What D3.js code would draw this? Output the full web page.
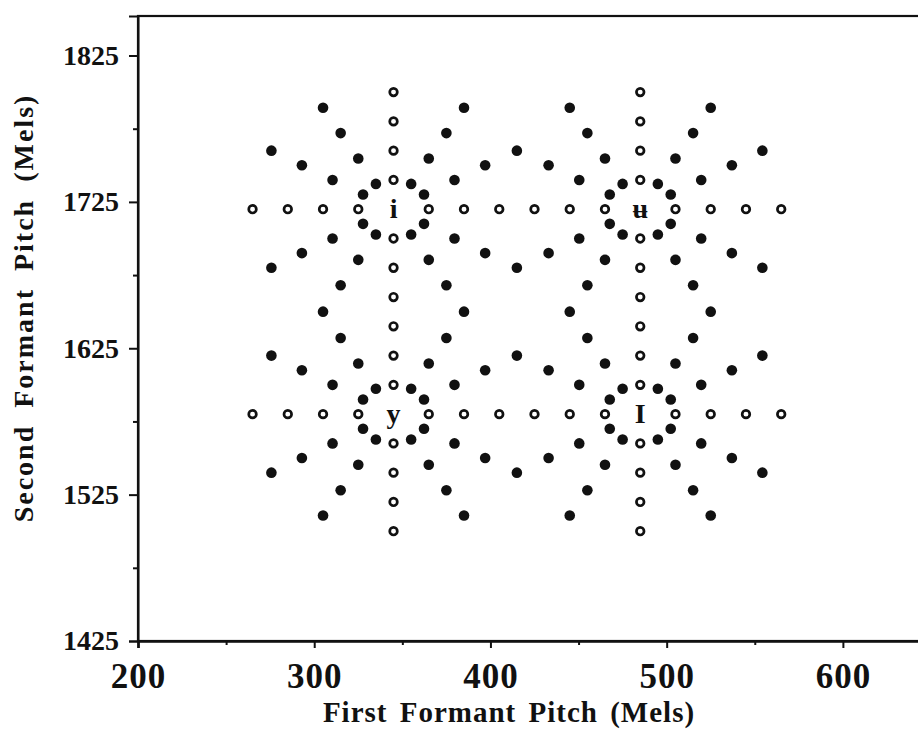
<!DOCTYPE html>
<meta charset="utf-8">
<style>
body { margin: 0; background: #fff; }
svg { display: block; background: #fff; }
text { font-family: "Liberation Serif", "Times New Roman", serif; font-weight: bold; fill: #111; }
.axis path, .axis line { stroke: #111; stroke-width: 2px; }
.axis.bottom path { stroke-width: 2.6px; }
.frame { fill: none; stroke: #111; stroke-width: 2.2px; }
.dot-filled { fill: #111; }
.dot-open { fill: #fff; stroke: #111; stroke-width: 2.7px; }
</style>
<script src="https://d3js.org/d3.v7.min.js"></script>
<body>
<svg id="chart"></svg>
<script>

// axis ticks
var xMajor = [200, 300, 400, 500, 600];
var xMinor = [250, 350, 450, 550, 650];
var yMajor = [1425, 1525, 1625, 1725, 1825];
var yMinor = [1475, 1575, 1675, 1775];

// prototype vowels (F1, F2 in mels)
var protoLabels = ["i", "\u0289", "y", "I"];
var protoF1 = [345, 485, 345, 485];
var protoF2 = [1720, 1720, 1580, 1580];

// open circles: stimuli on the horizontal / vertical lines through the prototypes
var openPoints = [
  [265,1720],[285,1720],[305,1720],[325,1720],[365,1720],[385,1720],[405,1720],
  [425,1720],[445,1720],[465,1720],[505,1720],[525,1720],[545,1720],[565,1720],
  [265,1580],[285,1580],[305,1580],[325,1580],[365,1580],[385,1580],[405,1580],
  [425,1580],[445,1580],[465,1580],[505,1580],[525,1580],[545,1580],[565,1580],
  [345,1800],[345,1780],[345,1760],[345,1740],[345,1700],[345,1680],[345,1660],
  [345,1640],[345,1620],[345,1600],[345,1560],[345,1540],[345,1520],[345,1500],
  [485,1800],[485,1780],[485,1760],[485,1740],[485,1700],[485,1680],[485,1660],
  [485,1640],[485,1620],[485,1600],[485,1560],[485,1540],[485,1520],[485,1500]
];

// filled circles: stimuli on the oblique rays round each prototype
var filledAroundI = [
  [362.3,1730],[379.6,1740],[397,1750],
  [355,1737.3],[365,1754.6],[375,1772],[385,1789.3],
  [335,1737.3],[325,1754.6],[315,1772],[305,1789.3],
  [327.7,1730],[310.4,1740],[293,1750],[275.7,1760],
  [327.7,1710],[310.4,1700],[293,1690],[275.7,1680],
  [335,1702.7],[325,1685.4],[315,1668],
  [355,1702.7],[365,1685.4],[375,1668],
  [362.3,1710],[379.6,1700],[397,1690]
];
var filledAroundU = [
  [502.3,1730],[519.6,1740],[537,1750],[554.3,1760],
  [495,1737.3],[505,1754.6],[515,1772],[525,1789.3],
  [475,1737.3],[465,1754.6],[455,1772],[445,1789.3],
  [467.7,1730],[450.4,1740],[433,1750],
  [467.7,1710],[450.4,1700],[433,1690],
  [475,1702.7],[465,1685.4],[455,1668],
  [495,1702.7],[505,1685.4],[515,1668],
  [502.3,1710],[519.6,1700],[537,1690],[554.3,1680]
];
var filledAroundY = [
  [362.3,1590],[379.6,1600],[397,1610],
  [355,1597.3],[365,1614.6],[375,1632],
  [335,1597.3],[325,1614.6],[315,1632],
  [327.7,1590],[310.4,1600],[293,1610],[275.7,1620],
  [327.7,1570],[310.4,1560],[293,1550],[275.7,1540],
  [335,1562.7],[325,1545.4],[315,1528],[305,1510.7],
  [355,1562.7],[365,1545.4],[375,1528],[385,1510.7],
  [362.3,1570],[379.6,1560],[397,1550]
];
var filledAroundCapI = [
  [502.3,1590],[519.6,1600],[537,1610],[554.3,1620],
  [495,1597.3],[505,1614.6],[515,1632],
  [475,1597.3],[465,1614.6],[455,1632],
  [467.7,1590],[450.4,1600],[433,1610],
  [467.7,1570],[450.4,1560],[433,1550],
  [475,1562.7],[465,1545.4],[455,1528],[445,1510.7],
  [495,1562.7],[505,1545.4],[515,1528],[525,1510.7],
  [502.3,1570],[519.6,1560],[537,1550],[554.3,1540]
];
// points where the rays of two prototypes meet
var filledShared = [
  [415,1760],[415,1680],[305,1650],[385,1650],
  [445,1650],[525,1650],[415,1620],[415,1540]
];

var width = 918,
    height = 740;

var svg = d3.select("#chart")
    .attr("width", width)
    .attr("height", height);

var x = d3.scaleLinear().domain([200, 650]).range([138, 931]);
var y = d3.scaleLinear().domain([1425, 1852]).range([641, 16]);

// frame (right side runs off the page)
svg.append("rect")
    .attr("class", "frame")
    .attr("x", x(200))
    .attr("y", y(1852))
    .attr("width", x(650) - x(200))
    .attr("height", y(1425) - y(1852));

// x axis
var xAxis = svg.append("g")
    .attr("class", "axis bottom")
    .attr("transform", "translate(0," + y(1425) + ")")
    .call(d3.axisBottom(x).tickValues(xMajor).tickSize(7).tickFormat(d3.format("d")));
xAxis.selectAll("text")
    .attr("y", 22)
    .attr("dy", "0.71em")
    .style("font-size", "35px")
    .style("letter-spacing", "1px")
    .style("font-family", "'Liberation Serif', serif")
    .style("fill", "#111");
svg.append("g")
    .attr("class", "axis")
    .attr("transform", "translate(0," + y(1425) + ")")
    .call(d3.axisBottom(x).tickValues(xMinor).tickSize(4).tickFormat(""))
    .select(".domain").remove();

// y axis
var yAxis = svg.append("g")
    .attr("class", "axis")
    .attr("transform", "translate(" + x(200) + ",0)")
    .call(d3.axisLeft(y).tickValues(yMajor).tickSize(9).tickPadding(10).tickFormat(d3.format("d")));
yAxis.selectAll("text")
    .style("font-size", "28px")
    .style("font-family", "'Liberation Serif', serif")
    .style("fill", "#111");
svg.append("g")
    .attr("class", "axis")
    .attr("transform", "translate(" + x(200) + ",0)")
    .call(d3.axisLeft(y).tickValues(yMinor).tickSize(5).tickFormat(""))
    .select(".domain").remove();

// axis titles
svg.append("text")
    .attr("x", 509)
    .attr("y", 722)
    .attr("text-anchor", "middle")
    .style("font-size", "29px")
    .style("letter-spacing", "1px")
    .style("word-spacing", "4px")
    .text("First Formant Pitch (Mels)");

svg.append("text")
    .attr("transform", "translate(33,308) rotate(-90)")
    .attr("text-anchor", "middle")
    .style("font-size", "28px")
    .style("letter-spacing", "2px")
    .style("word-spacing", "8px")
    .text("Second Formant Pitch (Mels)");

// stimuli
var filledPoints = filledAroundI.concat(filledAroundU, filledAroundY, filledAroundCapI, filledShared);

svg.append("g")
    .selectAll("circle")
    .data(filledPoints)
    .enter().append("circle")
    .attr("class", "dot-filled")
    .attr("cx", function(d) { return x(d[0]); })
    .attr("cy", function(d) { return y(d[1]); })
    .attr("r", 5.3);

svg.append("g")
    .selectAll("circle")
    .data(openPoints)
    .enter().append("circle")
    .attr("class", "dot-open")
    .attr("cx", function(d) { return x(d[0]); })
    .attr("cy", function(d) { return y(d[1]); })
    .attr("r", 3.8);

// prototype labels
svg.append("g")
    .selectAll("text")
    .data(protoLabels)
    .enter().append("text")
    .attr("x", function(d, i) { return x(protoF1[i]); })
    .attr("y", function(d, i) { return y(protoF2[i]) + 9; })
    .attr("text-anchor", "middle")
    .style("font-size", "28px")
    .text(function(d) { return d; });

</script>
</body>
